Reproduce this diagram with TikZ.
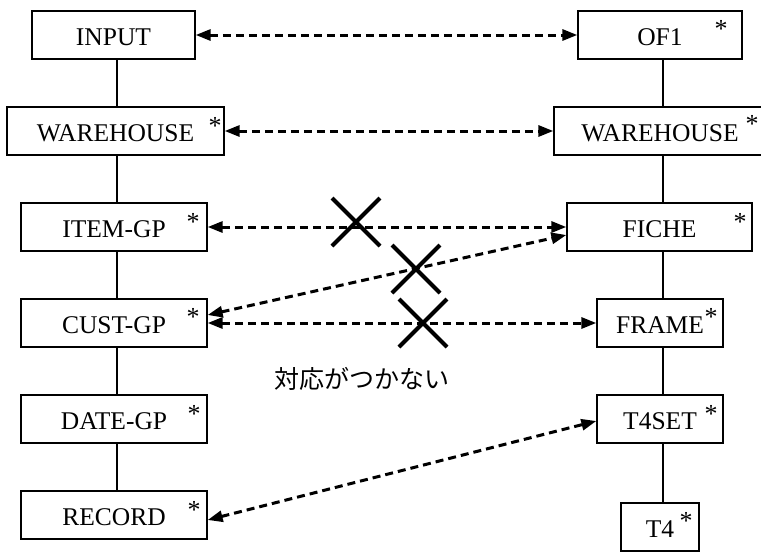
\documentclass[tikz,border=0pt]{standalone}
\usepackage{fontspec}
\setmainfont{Liberation Serif}
\newfontfamily\jpfont{Noto Sans CJK JP}
\usetikzlibrary{arrows.meta}

\tikzset{
  recbox/.style={draw, line width=1.3pt, rectangle, inner sep=0pt,
    minimum height=48pt, text height=21.5pt, text depth=0pt,
    font=\fontsize{25.5}{30}\selectfont},
  star/.style={anchor=base, inner sep=0pt, font=\fontsize{26}{30}\selectfont},
  tree/.style={line width=1.3pt},
  link/.style={line width=3pt, dash pattern=on 8pt off 5pt,
    {Triangle[length=15pt,width=11pt]}-{Triangle[length=15pt,width=11pt]}},
  cross/.style={line width=4pt},
}

\begin{document}
\begin{tikzpicture}[x=1pt,y=-1pt]
\useasboundingbox (0,0) rectangle (761,552);

% column axes
\coordinate (lx) at (117,0);
\coordinate (rx) at (663,0);

% left record structure
\node[recbox, minimum width=163pt] (input) at (113.5,35) {INPUT};
\node[recbox, minimum width=217pt] (whl)   at (115.5,131) {WAREHOUSE};
\node[recbox, minimum width=186pt] (item)  at (114,227) {ITEM-GP};
\node[recbox, minimum width=186pt] (cust)  at (114,323) {CUST-GP};
\node[recbox, minimum width=186pt] (date)  at (114,419) {DATE-GP};
\node[recbox, minimum width=186pt] (rec)   at (114,515) {RECORD};

% right record structure
\node[recbox, minimum width=164pt] (of1)   at (660,35) {OF1};
\node[recbox, minimum width=212pt] (whr)   at (660,131) {WAREHOUSE};
\node[recbox, minimum width=185pt] (fiche) at (659.5,227) {FICHE};
\node[recbox, minimum width=126pt] (frame) at (660,323) {FRAME};
\node[recbox, minimum width=126pt] (t4set) at (660,419) {T4SET};
\node[recbox, minimum width=78pt]  (t4)    at (660,527) {T4};

% repetition marks
\node[star] (s1)  at (215,134) {*};
\node[star] (s2)  at (193,230) {*};
\node[star] (s3)  at (193,325) {*};
\node[star] (s4)  at (194,422) {*};
\node[star] (s5)  at (194,518) {*};
\node[star] (s6)  at (721,37)  {*};
\node[star] (s7)  at (752,132) {*};
\node[star] (s8)  at (740,230) {*};
\node[star] (s9)  at (711,325) {*};
\node[star] (s10) at (711,422) {*};
\node[star] (s11) at (686,529) {*};

% hierarchy lines
\draw[tree] (input.south -| lx) -- (whl.north -| lx);
\draw[tree] (whl.south -| lx)   -- (item.north -| lx);
\draw[tree] (item.south -| lx)  -- (cust.north -| lx);
\draw[tree] (cust.south -| lx)  -- (date.north -| lx);
\draw[tree] (date.south -| lx)  -- (rec.north -| lx);

\draw[tree] (of1.south -| rx)   -- (whr.north -| rx);
\draw[tree] (whr.south -| rx)   -- (fiche.north -| rx);
\draw[tree] (fiche.south -| rx) -- (frame.north -| rx);
\draw[tree] (frame.south -| rx) -- (t4set.north -| rx);
\draw[tree] (t4set.south -| rx) -- (t4.north -| rx);

% correspondences
\draw[link] (input.east) -- (of1.west);
\draw[link] (whl.east) -- (whr.west);
\draw[link] (item.east) -- (fiche.west);
\draw[link] ([yshift=8pt]cust.east) -- ([yshift=-8pt]fiche.west);
\draw[link] (cust.east) -- (frame.west);
\draw[link] ([yshift=-5pt]rec.east) -- ([yshift=-2pt]t4set.west);

% rejected correspondences
\draw[cross] (332,198) -- (380,246) (332,246) -- (380,198);
\draw[cross] (392,245) -- (440,293) (392,293) -- (440,245);
\draw[cross] (399,299) -- (447,347) (399,347) -- (447,299);

\node[inner sep=0pt, font=\jpfont\fontsize{25}{30}\selectfont] (note) at (362,379) {対応がつかない};
\end{tikzpicture}
\end{document}
